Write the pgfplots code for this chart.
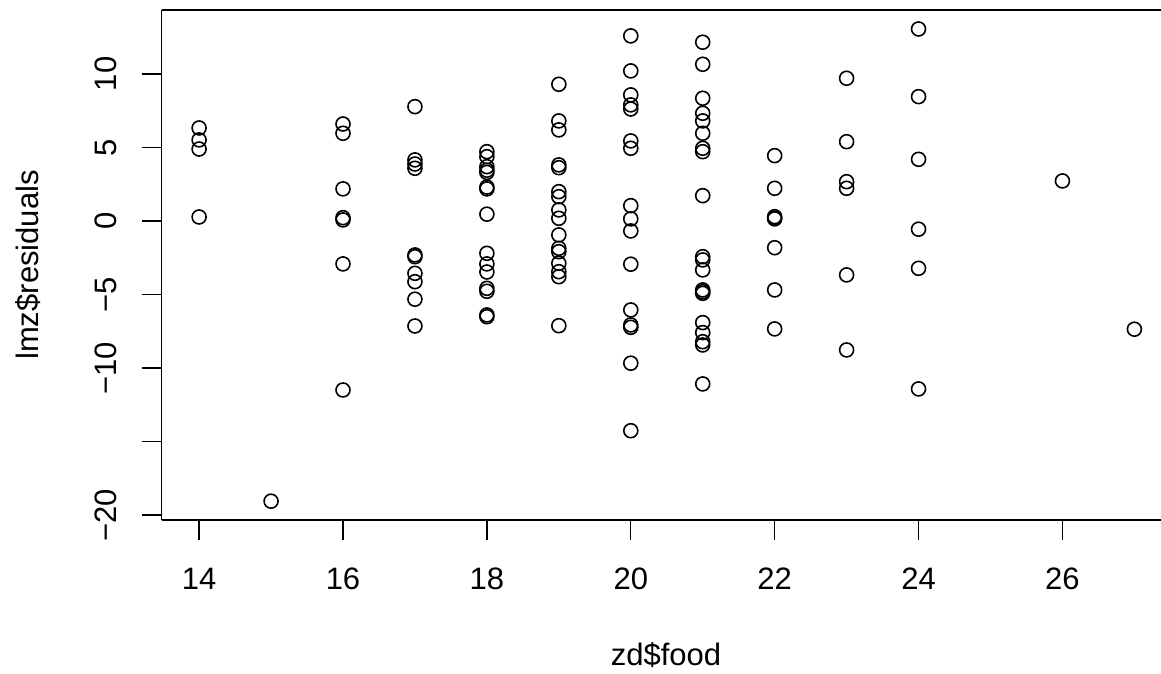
\documentclass[border=0pt]{standalone}
\usepackage{fontspec}
\setmainfont{Liberation Sans}
\usepackage{pgfplots}
\usepackage{pgfplotstable}
\pgfplotsset{compat=1.18}
\pgfplotstableread{
x y
14 6.32
14 5.51
14 4.89
14 0.27
15 -19.05
16 6.59
16 5.96
16 2.18
16 0.22
16 0.07
16 -2.92
16 -11.49
17 7.77
17 4.15
17 3.87
17 3.58
17 -2.31
17 -2.43
17 -3.56
17 -4.13
17 -5.32
17 -7.14
18 4.71
18 4.37
18 3.69
18 3.45
18 3.30
18 2.30
18 2.18
18 0.46
18 -2.20
18 -2.92
18 -3.47
18 -4.58
18 -4.78
18 -6.39
18 -6.51
19 9.29
19 6.80
19 6.19
19 3.81
19 3.62
19 1.99
19 1.65
19 0.75
19 0.18
19 -0.95
19 -1.86
19 -2.09
19 -2.88
19 -3.45
19 -3.79
19 -7.12
20 12.58
20 10.20
20 8.57
20 7.89
20 7.61
20 5.44
20 4.94
20 1.04
20 0.14
20 -0.68
20 -2.94
20 -6.05
20 -7.07
20 -7.23
20 -9.67
20 -14.26
21 12.15
21 10.65
21 8.34
21 7.32
21 6.80
21 5.96
21 4.94
21 4.71
21 1.72
21 -2.43
21 -2.65
21 -3.33
21 -4.69
21 -4.81
21 -4.92
21 -6.91
21 -7.59
21 -8.21
21 -8.43
21 -11.08
22 4.44
22 2.22
22 0.29
22 0.20
22 0.14
22 -1.82
22 -4.69
22 -7.34
23 9.70
23 5.39
23 2.67
23 2.22
23 -3.67
23 -8.77
24 13.05
24 8.45
24 4.19
24 -0.56
24 -3.22
24 -11.42
26 2.72
27 -7.36
}\resid
\begin{document}
\fontsize{31}{37}\selectfont
\begin{tikzpicture}
\begin{axis}[
  at={(0,0)}, anchor=south west,
  scale only axis, width=999.3pt, height=510pt,
  xmin=13.48, xmax=27.37, ymin=-20.33, ymax=14.34,
  axis x line=box, axis y line=left,
  axis line style={-, line width=1.4pt, black},
  tick pos=left,
  xtick={14,16,18,20,22,24,26},
  xticklabels={14,16,18,20,22,24,26},
  ytick={-20,-15,-10,-5,0,5,10},
  yticklabels={−20,,−10,−5,0,5,10},
  tick align=outside, major tick length=20pt,
  tick style={line width=1.4pt, black},
  xticklabel style={anchor=north, inner sep=0pt},
  yticklabel style={rotate=90, anchor=south, inner sep=0pt},
  xticklabel shift=28pt, yticklabel shift=25pt,
  xlabel={zd\$food},
  ylabel={lmz\$residuals},
  xlabel style={at={(axis description cs:0.5047,-0.2647)}, anchor=center},
  ylabel style={at={(axis description cs:-0.1338,0.5)}, anchor=center},
  clip=false,
]
\addplot[only marks, mark=o, mark size=7pt, mark options={line width=1.6pt, black}] table[x=x, y=y] {\resid};
\end{axis}
\pgfresetboundingbox
\useasboundingbox (-161.7pt,-153pt) rectangle (999.3pt,520pt);
\end{tikzpicture}
\end{document}
